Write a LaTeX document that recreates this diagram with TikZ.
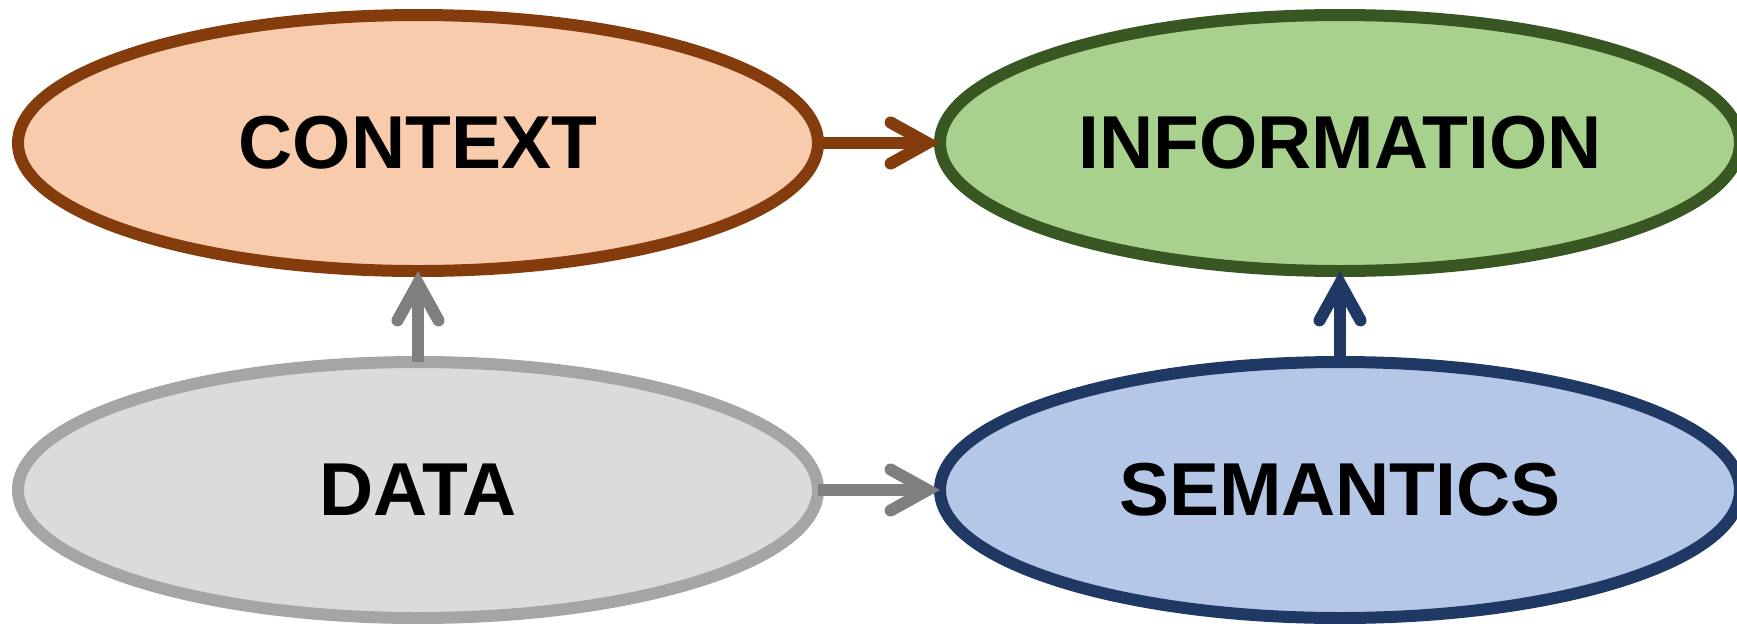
\documentclass[tikz,border=0pt]{standalone}
\usepackage{fontspec}
\setmainfont{Liberation Sans}
\usetikzlibrary{shapes.geometric,arrows.meta}
\definecolor{ctxfill}{HTML}{F8CBAD}
\definecolor{ctxline}{HTML}{843C0C}
\definecolor{infofill}{HTML}{A9D18E}
\definecolor{infoline}{HTML}{385723}
\definecolor{datafill}{HTML}{DBDBDB}
\definecolor{dataline}{HTML}{A5A5A5}
\definecolor{semfill}{HTML}{B4C7E7}
\definecolor{semline}{HTML}{203864}
\definecolor{arrgray}{HTML}{7F7F7F}
\tikzset{
  blob/.style={ellipse, minimum width=400pt, minimum height=128pt, inner sep=0pt,
    outer sep=0pt, line width=6pt, font=\fontsize{37.5}{45}\selectfont\bfseries},
  flow/.style={line width=6pt,
    -{Straight Barb[length=18.5pt, width=20.5pt, line cap=round, line join=miter]}}
}
\begin{document}
\begin{tikzpicture}[x=0.5pt,y=-0.5pt]
\useasboundingbox (0,0) rectangle (1737,623);
\node[blob, draw=ctxline, fill=ctxfill] (ctx) at (418,143) {CONTEXT};
\node[blob, draw=infoline, fill=infofill] (info) at (1340,143) {INFORMATION};
\node[blob, draw=dataline, fill=datafill] (data) at (418,490) {DATA};
\node[blob, draw=semline, fill=semfill] (sem) at (1340,490) {SEMANTICS};
\draw[flow, ctxline] (ctx.east) -- (info.west);
\draw[flow, arrgray] (data.east) -- (sem.west);
\draw[flow, arrgray] (data.north) -- (ctx.south);
\draw[flow, semline] (sem.north) -- (info.south);
\end{tikzpicture}
\end{document}
